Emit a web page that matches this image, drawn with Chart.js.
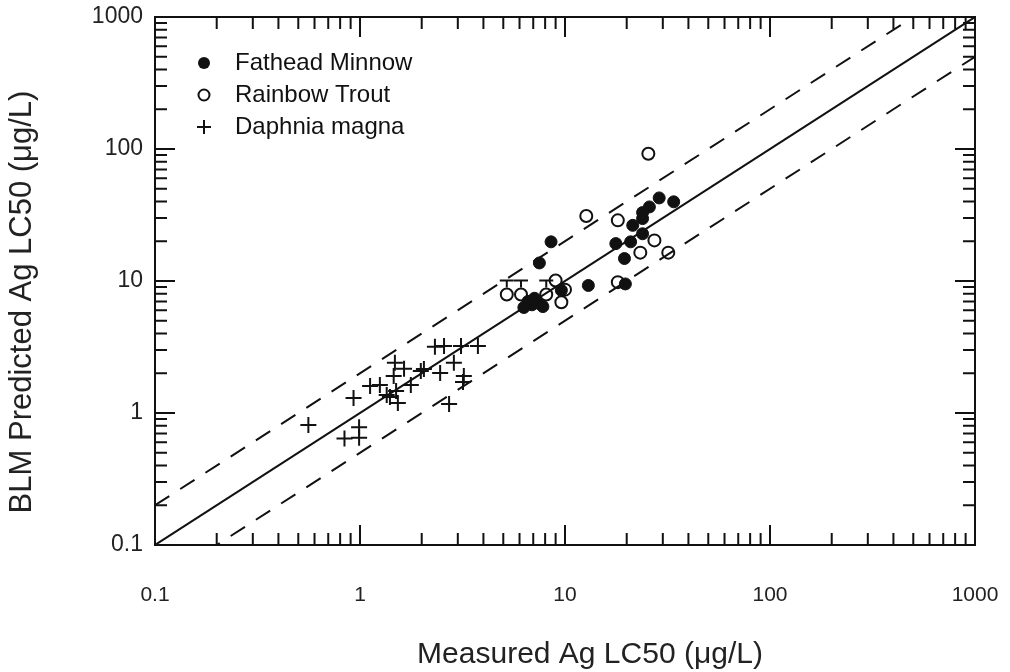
<!DOCTYPE html>
<html lang="en">
<head>
    <meta charset="UTF-8">
    <title>BLM Predicted vs Measured Ag LC50</title>
    <script src="https://cdn.jsdelivr.net/npm/chart.js@4.4.1/dist/chart.umd.min.js"></script>
    <style>
        html, body { margin: 0; padding: 0; background: #fff; }
        #wrap { width: 1010px; height: 672px; }
    </style>
</head>
<body>
<div id="wrap"><canvas id="c" width="1010" height="672"></canvas></div>
<script>
// data
const fatheadX = [8.55, 7.5, 6.3, 6.9, 7.4, 7.8, 7.1, 6.6, 9.6, 13.0, 17.7, 19.5, 20.9, 23.9, 19.7, 28.8, 33.9, 25.8, 23.9, 21.4, 23.9];
const fatheadY = [19.8, 13.7, 6.3, 6.6, 6.8, 6.4, 7.4, 7.0, 8.5, 9.25, 19.2, 14.8, 19.8, 22.8, 9.5, 42.6, 39.8, 36.4, 29.7, 26.4, 33.0];

const troutX = [5.2, 6.1, 8.1, 9.0, 10.0, 9.6, 12.7, 18.1, 25.5, 18.1, 23.3, 27.3, 31.9];
const troutY = [7.9, 7.9, 7.9, 10.1, 8.6, 6.9, 31.1, 28.8, 92.0, 9.8, 16.4, 20.3, 16.4];
const troutErrHigh = [10.1, 10.1, 10.1, null, null, null, null, null, null, null, null, null, null];

const daphniaX = [0.56, 0.84, 0.99, 0.99, 0.93, 1.12, 1.25, 1.35, 1.40, 1.53, 1.48, 1.64, 1.46, 1.77, 1.98, 2.46, 2.32, 2.57, 2.87, 3.11, 3.76, 3.21, 3.18, 2.72, 1.50, 2.05];
const daphniaY = [0.81, 0.64, 0.78, 0.65, 1.30, 1.60, 1.63, 1.37, 1.32, 1.19, 2.40, 2.16, 1.91, 1.63, 2.08, 2.01, 3.17, 3.22, 2.40, 3.22, 3.22, 1.91, 1.72, 1.17, 1.47, 2.15];

const axisMin = 0.1;
const axisMax = 1000;
const majorTicks = [0.1, 1, 10, 100, 1000];
const refLineX = [0.1, 1000];
const ratioFactors = [1, 2, 0.5];

const xTitle = 'Measured Ag LC50 (\u03bcg/L)';
const yTitle = 'BLM Predicted Ag LC50 (\u03bcg/L)';

const fontFam = "'Liberation Sans', Arial, sans-serif";

function pts(xs, ys) {
    return xs.map((x, i) => ({ x: x, y: ys[i] }));
}

// inward ticks on all four sides + top/right frame
const frameTicks = {
    id: 'frameTicks',
    afterDatasetsDraw(chart) {
        const { ctx, chartArea: a, scales: { x, y } } = chart;
        ctx.save();
        ctx.strokeStyle = '#111';
        ctx.lineWidth = 2;
        ctx.strokeRect(a.left, a.top, a.right - a.left, a.bottom - a.top);
        for (let d = -1; d < 3; d++) {
            for (let m = 1; m < 10; m++) {
                const v = m * Math.pow(10, d);
                const len = m === 1 ? 20 : 12;
                const px = x.getPixelForValue(v);
                const py = y.getPixelForValue(v);
                ctx.beginPath();
                ctx.moveTo(px, a.bottom); ctx.lineTo(px, a.bottom - len);
                ctx.moveTo(px, a.top); ctx.lineTo(px, a.top + len);
                ctx.moveTo(a.left, py); ctx.lineTo(a.left + len, py);
                ctx.moveTo(a.right, py); ctx.lineTo(a.right - len, py);
                ctx.stroke();
            }
        }
        ctx.restore();
    }
};

// error bars on a few rainbow trout points
const errBars = {
    id: 'errBars',
    afterDatasetsDraw(chart) {
        const { ctx, scales: { x, y } } = chart;
        ctx.save();
        ctx.strokeStyle = '#111';
        ctx.lineWidth = 2;
        troutErrHigh.forEach((hi, i) => {
            if (hi == null) return;
            const px = x.getPixelForValue(troutX[i]);
            const py = y.getPixelForValue(troutY[i]) - 7;
            const ph = y.getPixelForValue(hi);
            ctx.beginPath();
            ctx.moveTo(px, py); ctx.lineTo(px, ph);
            ctx.moveTo(px - 7, ph); ctx.lineTo(px + 7, ph);
            ctx.stroke();
        });
        ctx.restore();
    }
};

// legend inside the plot (top left) and the two axis titles
const labelsPlugin = {
    id: 'labelsPlugin',
    afterDraw(chart) {
        const { ctx, chartArea: a } = chart;
        const items = [
            { label: 'Fathead Minnow', style: 'filled' },
            { label: 'Rainbow Trout', style: 'open' },
            { label: 'Daphnia magna', style: 'cross' }
        ];
        ctx.save();
        ctx.font = '24px ' + fontFam;
        ctx.textBaseline = 'middle';
        ctx.fillStyle = '#111';
        ctx.strokeStyle = '#111';
        ctx.lineWidth = 2;
        items.forEach((it, i) => {
            const mx = a.left + 49;
            const my = a.top + 46 + i * 32;
            ctx.beginPath();
            if (it.style === 'filled') {
                ctx.arc(mx, my, 6, 0, Math.PI * 2);
                ctx.fill();
            } else if (it.style === 'open') {
                ctx.arc(mx, my, 5.5, 0, Math.PI * 2);
                ctx.stroke();
            } else {
                ctx.moveTo(mx - 7, my); ctx.lineTo(mx + 7, my);
                ctx.moveTo(mx, my - 7); ctx.lineTo(mx, my + 7);
                ctx.stroke();
            }
            ctx.fillText(it.label, a.left + 80, my);
        });

        ctx.fillStyle = '#222';
        ctx.textAlign = 'center';
        ctx.font = '30px ' + fontFam;
        ctx.fillText(xTitle, 590, 655);
        ctx.translate(22, 302);
        ctx.rotate(-Math.PI / 2);
        ctx.font = '31px ' + fontFam;
        ctx.fillText(yTitle, 0, 0);
        ctx.restore();
    }
};

const lineStyles = [
    { dash: [], width: 2 },
    { dash: [17, 13], width: 2 },
    { dash: [17, 13], width: 2 }
];

const lineSets = ratioFactors.map((f, i) => ({
    type: 'line',
    label: 'ratio ' + f,
    data: refLineX.map(x => ({ x: x, y: x * f })),
    borderColor: '#111',
    borderWidth: lineStyles[i].width,
    borderDash: lineStyles[i].dash,
    pointRadius: 0,
    fill: false,
    order: 5
}));

new Chart(document.getElementById('c'), {
    type: 'scatter',
    data: {
        datasets: [
            {
                label: 'Fathead Minnow',
                data: pts(fatheadX, fatheadY),
                pointStyle: 'circle',
                pointRadius: 6,
                backgroundColor: '#111',
                borderColor: '#111',
                borderWidth: 1
            },
            {
                label: 'Rainbow Trout',
                data: pts(troutX, troutY),
                pointStyle: 'circle',
                pointRadius: 6,
                backgroundColor: 'rgba(255,255,255,0)',
                borderColor: '#111',
                borderWidth: 2
            },
            {
                label: 'Daphnia magna',
                data: pts(daphniaX, daphniaY),
                pointStyle: 'cross',
                pointRadius: 8,
                borderColor: '#111',
                borderWidth: 2
            },
            ...lineSets
        ]
    },
    options: {
        responsive: false,
        animation: false,
        devicePixelRatio: 1,
        layout: { padding: { top: 17, right: 35, left: 0, bottom: 0 } },
        plugins: {
            legend: { display: false },
            tooltip: { enabled: false }
        },
        scales: {
            x: {
                type: 'logarithmic',
                min: axisMin,
                max: axisMax,
                afterBuildTicks: s => { s.ticks = majorTicks.map(v => ({ value: v })); },
                afterFit: s => { s.height = 127; s.paddingLeft = 0; s.paddingRight = 0; },
                grid: { display: false, drawTicks: false },
                border: { display: false },
                ticks: {
                    padding: 38,
                    maxRotation: 0,
                    color: '#222',
                    font: { family: fontFam, size: 21 },
                    callback: v => String(v)
                }
            },
            y: {
                type: 'logarithmic',
                min: axisMin,
                max: axisMax,
                afterBuildTicks: s => { s.ticks = majorTicks.map(v => ({ value: v })); },
                afterFit: s => { s.width = 155; s.paddingTop = 0; s.paddingBottom = 0; },
                grid: { display: false, drawTicks: false },
                border: { display: false },
                ticks: {
                    padding: 12,
                    color: '#222',
                    font: { family: fontFam, size: 23 },
                    callback: v => String(v)
                }
            }
        }
    },
    plugins: [frameTicks, errBars, labelsPlugin]
});
</script>
</body>
</html>
